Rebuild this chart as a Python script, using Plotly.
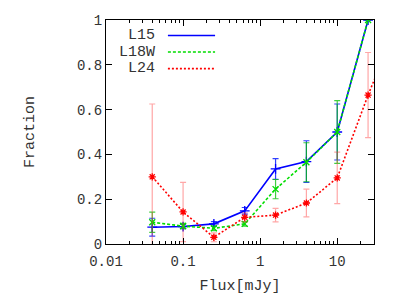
import plotly.graph_objects as go

flux = [0.0398, 0.1, 0.251, 0.631, 1.585, 3.981, 10.0, 25.12]
flux_l24 = [0.0398, 0.1, 0.251, 0.631, 1.585, 3.981, 10.0, 25.12, 63.1]

l15 = [0.075, 0.078, 0.09, 0.148, 0.335, 0.368, 0.50, 1.0]
l15_err = [0.04, 0.01, 0.01, 0.015, 0.046, 0.093, 0.125, 0.0]

l18w = [0.097, 0.08, 0.07, 0.09, 0.245, 0.365, 0.50, 1.0]
l18w_err = [0.045, 0.012, 0.01, 0.01, 0.043, 0.087, 0.14, 0.0]

l24 = [0.30, 0.143, 0.03, 0.119, 0.129, 0.183, 0.295, 0.665, 1.0]
l24_err = [0.325, 0.132, 0.02, 0.02, 0.03, 0.062, 0.115, 0.19, 0.0]

names = ["L15", "L18W", "L24"]
xticks = [0.01, 0.1, 1, 10]
xticklabels = ["0.01", "0.1", "1", "10"]
yticks = [0, 0.2, 0.4, 0.6, 0.8, 1]

FONT = "Liberation Mono, Courier New, monospace"
FS = 14

fig = go.Figure()

series = [
    (flux, l15, l15_err, "#0000ff", "solid", "cross-thin", "#3040ff", 7),
    (flux, l18w, l18w_err, "#00dd00", "3px,2px", "x-thin", "rgba(0,190,0,0.75)", 6),
    (flux_l24, l24, l24_err, "#ff0000", "2px,2px", "asterisk", "rgba(255,60,60,0.45)", 6),
]

for (xs, ys, es, col, dash, sym, ecol, msz), nm in zip(series, names):
    fig.add_trace(go.Scatter(
        x=xs, y=ys, name=nm, mode="lines+markers",
        line=dict(color=col, width=1.6, dash=dash),
        marker=dict(symbol=sym, size=msz, color=col, line=dict(color=col, width=1.3)),
        error_y=dict(type="data", array=es, visible=True, color=ecol, thickness=1.2, width=3),
        showlegend=False,
    ))

# gnuplot-style legend: right-aligned text, line sample on its right
leg_y = [0.931, 0.857, 0.783]
for (xs, ys, es, col, dash, sym, ecol, msz), nm, yy in zip(series, names, leg_y):
    fig.add_annotation(x=0.19, y=yy, xref="paper", yref="paper", text=nm,
                       showarrow=False, xanchor="right", yanchor="middle",
                       font=dict(family=FONT, size=FS + 1, color="#333333"))
    fig.add_shape(type="line", xref="paper", yref="paper", x0=0.231, x1=0.407,
                  y0=yy, y1=yy, line=dict(color=col, width=1.6, dash=dash))

fig.update_layout(
    width=392, height=292,
    margin=dict(l=98, r=26, t=12, b=56),
    paper_bgcolor="white", plot_bgcolor="white",
    font=dict(family=FONT, size=FS, color="#333333"),
    xaxis=dict(
        type="log", range=[-2, 1.477],
        tickvals=xticks, ticktext=xticklabels,
        ticks="inside", ticklen=6, tickcolor="black", ticklabelstandoff=4,
        minor=dict(ticks="inside", ticklen=3, tickcolor="black", dtick="D1", showgrid=False),
        showline=True, linecolor="black", linewidth=1, mirror="allticks",
        showgrid=False, zeroline=False, automargin=False,
        title=dict(text="Flux[mJy]", font=dict(family=FONT, size=FS + 1), standoff=10),
    ),
    yaxis=dict(
        range=[0, 1], tickvals=yticks,
        ticks="inside", ticklen=6, tickcolor="black",
        showline=True, linecolor="black", linewidth=1, mirror="allticks",
        showgrid=False, zeroline=False, automargin=False,
        title=dict(text="Fraction", font=dict(family=FONT, size=FS + 1), standoff=38),
    ),
)

fig.write_html("out.html")
